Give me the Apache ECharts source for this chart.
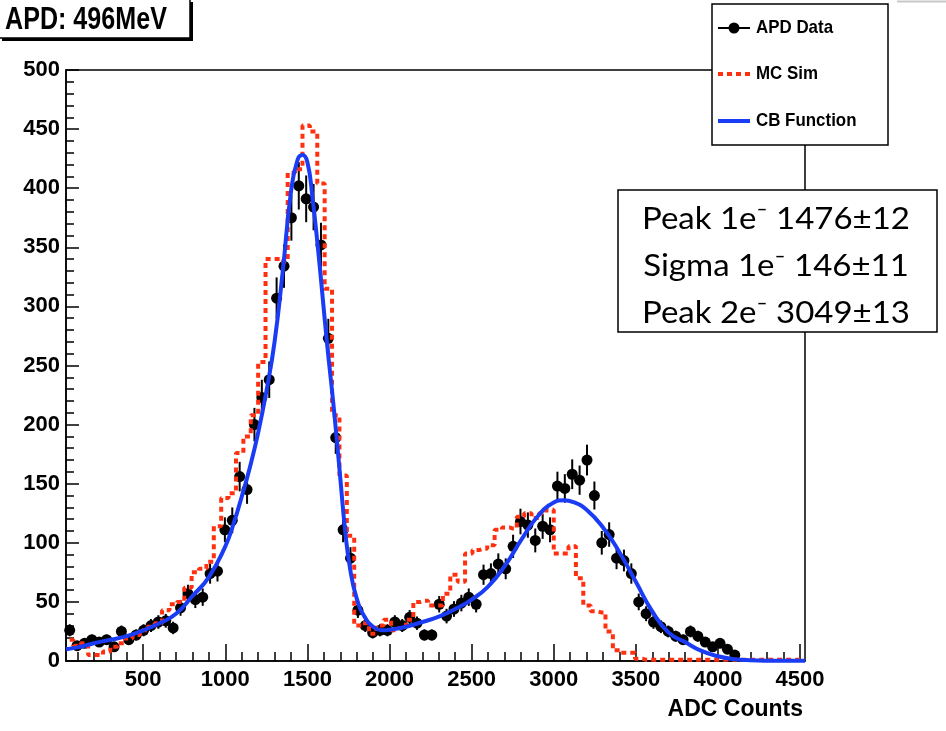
<!DOCTYPE html>
<html>
<head>
<meta charset="utf-8">
<script src="https://cdn.jsdelivr.net/npm/echarts@6/dist/echarts.min.js"></script>
<style>
  html, body { margin: 0; padding: 0; background: #fff; }
  #chart { width: 946px; height: 731px; }
</style>
</head>
<body>
<div id="chart"></div>
<script>
// Histogram binning (ADC counts)
const binStart = 30;
const binWidth = 45;

// APD data: entries per bin
const apdCounts = [
  26, 13, 15, 18, 16, 18, 12, 25, 18, 22,
  26, 30, 33, 34, 28, 45, 57, 52, 54, 74,
  76, 111, 119, 156, 145, 200, 223, 238, 307, 334,
  375, 402, 391, 384, 352, 273, 189, 111, 87, 43,
  30, 24, 26, 26, 33, 30, 37, 32, 22, 22,
  48, 38, 44, 49, 54, 48, 73, 74, 82, 78,
  97, 118, 115, 102, 114, 111, 148, 146, 158, 153,
  170, 140, 100, 107, 87, 85, 74, 50, 40, 33,
  29, 25, 21, 18, 25, 21, 16, 12, 15, 10,
  5
];

// MC simulation: entries per bin
const mcCounts = [
  18, 13, 15, 5, 5, 8, 12, 15, 19, 22,
  26, 29, 32, 43, 48, 50, 62, 75, 78, 84,
  114, 138, 142, 176, 190, 208, 253, 340, 340, 338,
  413, 416, 453, 448, 404, 315, 208, 157, 106, 30,
  32, 23, 30, 35, 26, 28, 35, 50, 51, 47,
  47, 57, 73, 67, 91, 94, 95, 98, 111, 113,
  112, 122, 125, 121, 125, 128, 91, 91, 97, 70,
  47, 42, 41, 25, 9, 7, 7, 2, 1, 1,
  1, 1, 1, 1, 1, 1, 1, 1, 1, 1,
  1, 1, 1, 1, 1, 1, 1, 1, 1, 1
];

// Crystal Ball fit curve, sampled points
const cbX = [30, 100, 200, 300, 400, 500, 600, 700, 800, 900, 1000, 1050, 1100, 1150, 1200, 1250, 1300, 1350, 1400, 1440,
  1470, 1500, 1530, 1560, 1590, 1620, 1660, 1700, 1730, 1760, 1800, 1850, 1900, 1950, 2000, 2100, 2200, 2300, 2400, 2500,
  2600, 2700, 2800, 2900, 3000, 3060, 3120, 3200, 3300, 3400, 3500, 3600, 3700, 3800, 3900, 4000, 4100, 4200, 4300, 4530];
const cbY = [10, 11.5, 15, 18, 21, 26, 32, 40, 55, 71, 97, 116, 139, 164, 193, 228, 270, 330, 397, 424,
  428, 422, 393, 355, 312, 268, 215, 155, 110, 78, 53, 37, 29, 26, 26.5, 29, 33, 37.5, 44, 52,
  63, 80, 102, 122, 134, 136, 134.5, 128, 113, 92, 67, 42, 24, 16, 8.5, 4, 1.5, 0.6, 0.3, 0.2];

// Axis ticks
const xMajorTicks = [500, 1000, 1500, 2000, 2500, 3000, 3500, 4000, 4500];
const xMinorTicks = [];
for (let v = 100; v <= 4500; v += 100) xMinorTicks.push(v);

const statLines = ['Peak 1e\u207B 1476\u00B112', 'Sigma 1e\u207B 146\u00B111', 'Peak 2e\u207B 3049\u00B113'];

const axisFont = "'Liberation Sans', Arial, sans-serif";

const center = k => binStart + binWidth * (k + 0.5);
const apdPoints = apdCounts.map((c, k) => [center(k), c]);
const apdErrors = apdCounts.map((c, k) => [center(k), c, Math.sqrt(c)]);
const mcPoints = mcCounts.map((c, k) => [center(k), c]);
const cbPoints = cbX.map((x, i) => [x, cbY[i]]);

const RED = '#ff3010';
const BLUE = '#1a3cf5';

const chart = echarts.init(document.getElementById('chart'), null, { renderer: 'canvas' });

const statText = (text, y) => ({
  type: 'text', z: 102, x: 776, y: y, scaleX: 1.1,
  style: { text: text, font: "30px Lato, 'Open Sans', sans-serif", fill: '#000', align: 'center', verticalAlign: 'middle' }
});

const legendText = (text, y) => ({
  type: 'text', z: 102, x: 756, y: y, scaleX: 0.89,
  style: { text: text, font: "bold 19px 'Liberation Sans', Arial, sans-serif", fill: '#000', verticalAlign: 'middle' }
});

const option = {
  animation: false,
  backgroundColor: '#fff',
  grid: {
    left: 66, right: 141, top: 70, bottom: 70,
    show: true, borderColor: '#000', borderWidth: 1.5, backgroundColor: 'transparent'
  },
  xAxis: [
    {
      type: 'value', min: 30, max: 4530,
      axisLine: { show: true, lineStyle: { color: '#000', width: 1.5 } },
      axisTick: { show: true, inside: true, length: 17, customValues: xMajorTicks, lineStyle: { color: '#000', width: 1.5 } },
      axisLabel: {
        customValues: xMajorTicks, margin: 8, color: '#000',
        fontFamily: axisFont, fontWeight: 'bold', fontSize: 22,
        formatter: v => String(v)
      },
      splitLine: { show: false }
    },
    {
      type: 'value', min: 30, max: 4530, position: 'bottom',
      axisLine: { show: false },
      axisTick: { show: true, inside: true, length: 9, customValues: xMinorTicks, lineStyle: { color: '#000', width: 1.5 } },
      axisLabel: { show: false },
      splitLine: { show: false }
    }
  ],
  yAxis: {
    type: 'value', min: 0, max: 500, interval: 50,
    axisLine: { show: true, lineStyle: { color: '#000', width: 1.5 } },
    axisTick: { show: true, inside: true, length: 13, lineStyle: { color: '#000', width: 1.5 } },
    minorTick: { show: true, splitNumber: 5, length: 8, lineStyle: { color: '#000', width: 1.5 } },
    axisLabel: {
      margin: 6, color: '#000',
      fontFamily: axisFont, fontWeight: 'bold', fontSize: 22
    },
    splitLine: { show: false },
    minorSplitLine: { show: false }
  },
  series: [
    {
      name: 'MC Sim', type: 'line', step: 'middle', data: mcPoints,
      symbol: 'none', xAxisIndex: 0,
      lineStyle: { color: RED, width: 4, type: [5, 4] }
    },
    {
      name: 'CB Function', type: 'line', data: cbPoints, smooth: 0.5,
      symbol: 'none', xAxisIndex: 0,
      lineStyle: { color: BLUE, width: 4 }
    },
    {
      name: 'APD errors', type: 'custom', data: apdErrors, xAxisIndex: 0,
      encode: { x: 0, y: 1 },
      renderItem: function (params, api) {
        const x = api.value(0), y = api.value(1), e = api.value(2);
        const p1 = api.coord([x, y + e]);
        const p2 = api.coord([x, Math.max(0, y - e)]);
        return {
          type: 'line',
          shape: { x1: p1[0], y1: p1[1], x2: p2[0], y2: p2[1] },
          style: { stroke: '#000', lineWidth: 2 }
        };
      }
    },
    {
      name: 'APD Data', type: 'scatter', data: apdPoints, xAxisIndex: 0,
      symbol: 'circle', symbolSize: 11,
      itemStyle: { color: '#000', opacity: 1 }
    }
  ],
  graphic: [
    // title box with drop shadow
    { type: 'rect', z: 100, shape: { x: 2, y: 2, width: 191, height: 39 }, style: { fill: '#000' } },
    { type: 'rect', z: 101, shape: { x: -1, y: -1, width: 191, height: 39 }, style: { fill: '#fff', stroke: '#000', lineWidth: 1.5 } },
    {
      type: 'text', z: 102, x: 5, y: 20, scaleX: 0.81,
      style: { text: 'APD: 496MeV', font: "bold 31px 'Liberation Sans', Arial, sans-serif", fill: '#000', verticalAlign: 'middle', align: 'left' }
    },
    // corner line
    { type: 'line', z: 100, shape: { x1: 897, y1: 1.5, x2: 946, y2: 1.5 }, style: { stroke: '#c8c8c8', lineWidth: 2 } },
    // legend box
    { type: 'rect', z: 100, shape: { x: 712, y: 4, width: 176, height: 141 }, style: { fill: '#fff', stroke: '#000', lineWidth: 1.5 } },
    { type: 'line', z: 101, shape: { x1: 718, y1: 28, x2: 750, y2: 28 }, style: { stroke: '#000', lineWidth: 2 } },
    { type: 'circle', z: 102, shape: { cx: 734, cy: 28, r: 5.5 }, style: { fill: '#000' } },
    { type: 'line', z: 101, shape: { x1: 718, y1: 74, x2: 750, y2: 74 }, style: { stroke: RED, lineWidth: 4, lineDash: [5, 4] } },
    { type: 'line', z: 101, shape: { x1: 718, y1: 121, x2: 750, y2: 121 }, style: { stroke: BLUE, lineWidth: 4 } },
    legendText('APD Data', 28),
    legendText('MC Sim', 74),
    legendText('CB Function', 121),
    // fit results box
    { type: 'rect', z: 100, shape: { x: 618, y: 190, width: 319, height: 142 }, style: { fill: '#fff', stroke: '#000', lineWidth: 1.5 } },
    statText(statLines[0], 219),
    statText(statLines[1], 266),
    statText(statLines[2], 313),
    // x axis title
    {
      type: 'text', z: 102, x: 803, y: 710,
      style: { text: 'ADC Counts', font: "bold 23px 'Liberation Sans', Arial, sans-serif", fill: '#000', align: 'right', verticalAlign: 'middle' }
    }
  ]
};

chart.setOption(option);
</script>
</body>
</html>
